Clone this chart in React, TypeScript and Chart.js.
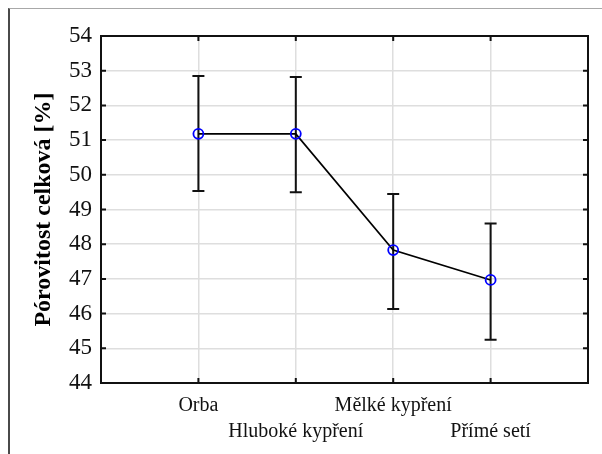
import React, { useEffect, useRef } from "react";
import { Chart, registerables } from "chart.js";

Chart.register(...registerables);

// Tillage variants (categories) and measured total porosity
const categories = ["Orba", "Hluboké kypření", "Mělké kypření", "Přímé setí"];
const means = [51.18, 51.18, 47.83, 46.97];
const lowerBounds = [49.53, 49.5, 46.13, 45.25];
const upperBounds = [52.85, 52.82, 49.45, 48.6];

const yMin = 44;
const yMax = 54;
const yTitle = "Pórovitost celková [%]";

const FONT = "'Liberation Serif', 'Times New Roman', serif";
const GRID = "#dedede";
const INK = "#111111";

// Frame, inward ticks and error bars
const decorations = {
  id: "decorations",
  beforeDatasetsDraw(chart: any) {
    const { ctx } = chart;
    const xs = chart.scales.x;
    const ys = chart.scales.y;
    ctx.save();
    ctx.strokeStyle = INK;
    ctx.lineWidth = 2;
    for (let i = 0; i < means.length; i++) {
      const px = xs.getPixelForValue(i);
      const top = ys.getPixelForValue(upperBounds[i]);
      const bot = ys.getPixelForValue(lowerBounds[i]);
      ctx.beginPath();
      ctx.moveTo(px, top);
      ctx.lineTo(px, bot);
      ctx.moveTo(px - 6, top);
      ctx.lineTo(px + 6, top);
      ctx.moveTo(px - 6, bot);
      ctx.lineTo(px + 6, bot);
      ctx.stroke();
    }
    ctx.restore();
  },
  afterDraw(chart: any) {
    const { ctx, chartArea: a } = chart;
    const xs = chart.scales.x;
    const ys = chart.scales.y;
    ctx.save();
    ctx.strokeStyle = INK;
    ctx.lineWidth = 2;
    ctx.strokeRect(a.left, a.top, a.right - a.left, a.bottom - a.top);
    ctx.beginPath();
    for (let v = yMin + 1; v < yMax; v++) {
      const py = ys.getPixelForValue(v);
      ctx.moveTo(a.left, py);
      ctx.lineTo(a.left + 5, py);
      ctx.moveTo(a.right, py);
      ctx.lineTo(a.right - 5, py);
    }
    for (let i = 0; i < categories.length; i++) {
      const px = xs.getPixelForValue(i);
      ctx.moveTo(px, a.top);
      ctx.lineTo(px, a.top + 5);
      ctx.moveTo(px, a.bottom);
      ctx.lineTo(px, a.bottom - 5);
    }
    ctx.stroke();
    ctx.restore();
  },
};

export default function App() {
  const canvasRef = useRef<HTMLCanvasElement | null>(null);

  useEffect(() => {
    if (!canvasRef.current) return;
    const chart = new Chart(canvasRef.current, {
      type: "line",
      data: {
        datasets: [
          {
            data: means.map((m, i) => ({ x: i, y: m })),
            borderColor: "#000000",
            borderWidth: 1.7,
            pointRadius: 5,
            pointBorderColor: "#0000ff",
            pointBackgroundColor: "rgba(0,0,0,0)",
            pointBorderWidth: 1.8,
            tension: 0,
          },
        ],
      },
      plugins: [decorations],
      options: {
        animation: false,
        responsive: false,
        events: [],
        layout: { padding: { top: 36, right: 14, left: 0, bottom: 0 } },
        plugins: { legend: { display: false }, tooltip: { enabled: false } },
        scales: {
          x: {
            type: "linear",
            min: -1,
            max: categories.length,
            afterFit(scale: any) {
              scale.height = 454 - 383;
            },
            afterBuildTicks(scale: any) {
              const t = [];
              for (let v = -1; v <= categories.length; v++) t.push({ value: v });
              scale.ticks = t;
            },
            grid: {
              drawTicks: false,
              lineWidth: 1.5,
              color: (c: any) => {
                const v = c.tick ? c.tick.value : -1;
                return v >= 0 && v < categories.length ? GRID : "rgba(0,0,0,0)";
              },
            },
            border: { display: false },
            ticks: {
              autoSkip: false,
              maxRotation: 0,
              padding: 10,
              color: INK,
              font: { family: FONT, size: 20, lineHeight: 1.3 },
              callback: (v: any) => {
                const i = Number(v);
                if (i < 0 || i >= categories.length) return "";
                return i % 2 === 0 ? [categories[i], ""] : ["", categories[i]];
              },
            },
          },
          y: {
            type: "linear",
            min: yMin,
            max: yMax,
            afterFit(scale: any) {
              scale.width = 101;
            },
            grid: {
              drawTicks: false,
              lineWidth: 1.5,
              color: (c: any) => {
                const v = c.tick ? c.tick.value : yMin;
                return v > yMin && v < yMax ? GRID : "rgba(0,0,0,0)";
              },
            },
            border: { display: false },
            ticks: {
              stepSize: 1,
              padding: 9,
              color: INK,
              font: { family: FONT, size: 23 },
            },
            title: {
              display: true,
              text: yTitle,
              color: "#000000",
              padding: { top: 29, bottom: 0 },
              font: { family: FONT, size: 24, weight: "bold" },
            },
          },
        },
      },
    });
    return () => chart.destroy();
  }, []);

  return (
    <div style={{ position: "fixed", left: 0, top: 0, width: 602, height: 454, background: "#fff" }}>
      <div
        style={{
          position: "absolute",
          left: 8,
          top: 8,
          right: 0,
          bottom: 0,
          borderLeft: "2px solid #4a4a4a",
          borderTop: "1px solid #a8a8a8",
        }}
      />
      <canvas
        ref={canvasRef}
        width={602}
        height={454}
        style={{ position: "absolute", left: 0, top: 0, width: 602, height: 454 }}
      />
    </div>
  );
}
